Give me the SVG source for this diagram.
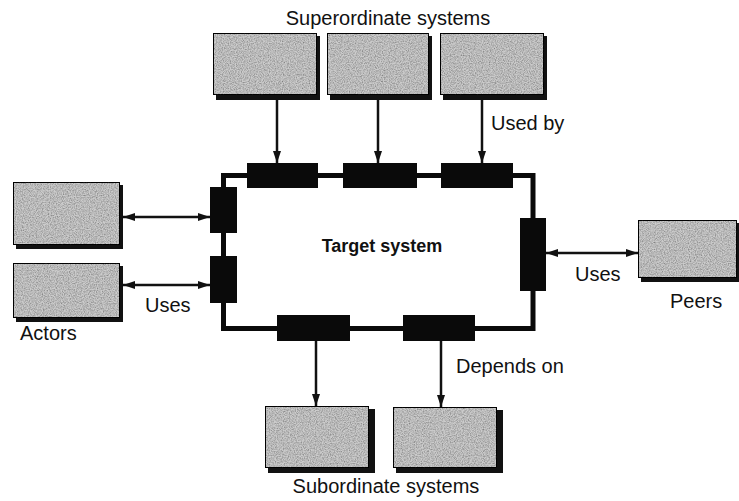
<svg xmlns="http://www.w3.org/2000/svg" width="739" height="501" viewBox="0 0 739 501">
  <style>
    text { font-family: "Liberation Sans", "Noto Sans", sans-serif; font-size: 20px; fill: #111; }
    .mid { text-anchor: middle; }
    .title { font-weight: bold; font-size: 18px; }
    .box { fill: #cccccc; stroke: #111; stroke-width: 2; filter: url(#grain); }
    .shadow { fill: #111; }
    .port { fill: #0a0a0a; }
    .frame { fill: #fff; stroke: #0a0a0a; stroke-width: 5; }
    .link { stroke: #111; stroke-width: 2.5; fill: none; }
  </style>
  <defs>
    <filter id="grain" x="0" y="0" width="1" height="1">
      <feTurbulence type="fractalNoise" baseFrequency="0.85" numOctaves="2" seed="3" result="n"/>
      <feColorMatrix in="n" type="matrix" values="0 0 0 0 0  0 0 0 0 0  0 0 0 0 0  0 0 0 -1.1 0.75" result="dots"/>
      <feComposite in="dots" in2="SourceGraphic" operator="in" result="dm"/>
      <feMerge><feMergeNode in="SourceGraphic"/><feMergeNode in="dm"/></feMerge>
    </filter>
    <marker id="head" viewBox="0 0 12 8" refX="12" refY="4" markerUnits="userSpaceOnUse" markerWidth="12" markerHeight="8" orient="auto-start-reverse">
      <path d="M0,0 L12,4 L0,8 z" fill="#111"/>
    </marker>
  </defs>

  <!-- target system frame with interface ports -->
  <g id="target">
    <rect class="frame" x="223.5" y="175.5" width="309.5" height="153"/>
    <text class="mid title" x="382" y="252">Target system</text>
    <rect class="port" x="247" y="163" width="71" height="25"/>
    <rect class="port" x="343" y="163" width="74" height="25"/>
    <rect class="port" x="441" y="163" width="72" height="25"/>
    <rect class="port" x="210" y="187" width="27" height="46"/>
    <rect class="port" x="210" y="256" width="27" height="47"/>
    <rect class="port" x="520" y="218" width="26" height="73"/>
    <rect class="port" x="277" y="315" width="73" height="26"/>
    <rect class="port" x="403" y="315" width="72" height="26"/>
  </g>

  <!-- superordinate systems -->
  <g id="super">
    <text class="mid" x="388" y="25">Superordinate systems</text>
    <g id="super1"><rect class="shadow" x="216" y="36" width="104" height="64"/><rect class="box" x="213" y="33" width="104" height="62"/></g>
    <g id="super2"><rect class="shadow" x="330" y="36" width="102" height="64"/><rect class="box" x="327" y="33" width="102" height="62"/></g>
    <g id="super3"><rect class="shadow" x="443" y="36" width="104" height="64"/><rect class="box" x="440" y="33" width="104" height="62"/></g>
  </g>

  <!-- actors -->
  <g id="actors">
    <g id="actor1"><rect class="shadow" x="16" y="185" width="107" height="64"/><rect class="box" x="13" y="182" width="107" height="63"/></g>
    <g id="actor2"><rect class="shadow" x="16" y="266" width="107" height="56"/><rect class="box" x="13" y="263" width="107" height="55"/></g>
    <text x="20" y="340">Actors</text>
  </g>

  <!-- peers -->
  <g id="peers">
    <rect class="shadow" x="641" y="223" width="100" height="59"/>
    <rect class="box" x="638" y="220" width="99" height="58"/>
    <text x="670" y="308">Peers</text>
  </g>

  <!-- subordinate systems -->
  <g id="sub">
    <g id="sub1"><rect class="shadow" x="268" y="409" width="107" height="64"/><rect class="box" x="265" y="406" width="104" height="62"/></g>
    <g id="sub2"><rect class="shadow" x="396" y="410" width="107" height="63"/><rect class="box" x="393" y="407" width="104" height="61"/></g>
    <text class="mid" x="386" y="493">Subordinate systems</text>
  </g>

  <!-- connectors -->
  <g id="connectors">
    <line class="link" x1="277" y1="100" x2="277" y2="163" marker-end="url(#head)"/>
    <line class="link" x1="378" y1="100" x2="378" y2="163" marker-end="url(#head)"/>
    <line class="link" x1="482" y1="100" x2="482" y2="163" marker-end="url(#head)"/>
    <text x="491" y="130">Used by</text>
    <line class="link" x1="123" y1="217" x2="210" y2="217" marker-start="url(#head)" marker-end="url(#head)"/>
    <line class="link" x1="123" y1="285" x2="210" y2="285" marker-start="url(#head)" marker-end="url(#head)"/>
    <text x="145" y="312">Uses</text>
    <line class="link" x1="546" y1="253" x2="638" y2="253" marker-start="url(#head)" marker-end="url(#head)"/>
    <text x="575" y="281">Uses</text>
    <line class="link" x1="316" y1="341" x2="316" y2="406" marker-end="url(#head)"/>
    <line class="link" x1="441" y1="341" x2="441" y2="407" marker-end="url(#head)"/>
    <text x="456" y="373">Depends on</text>
  </g>
</svg>
